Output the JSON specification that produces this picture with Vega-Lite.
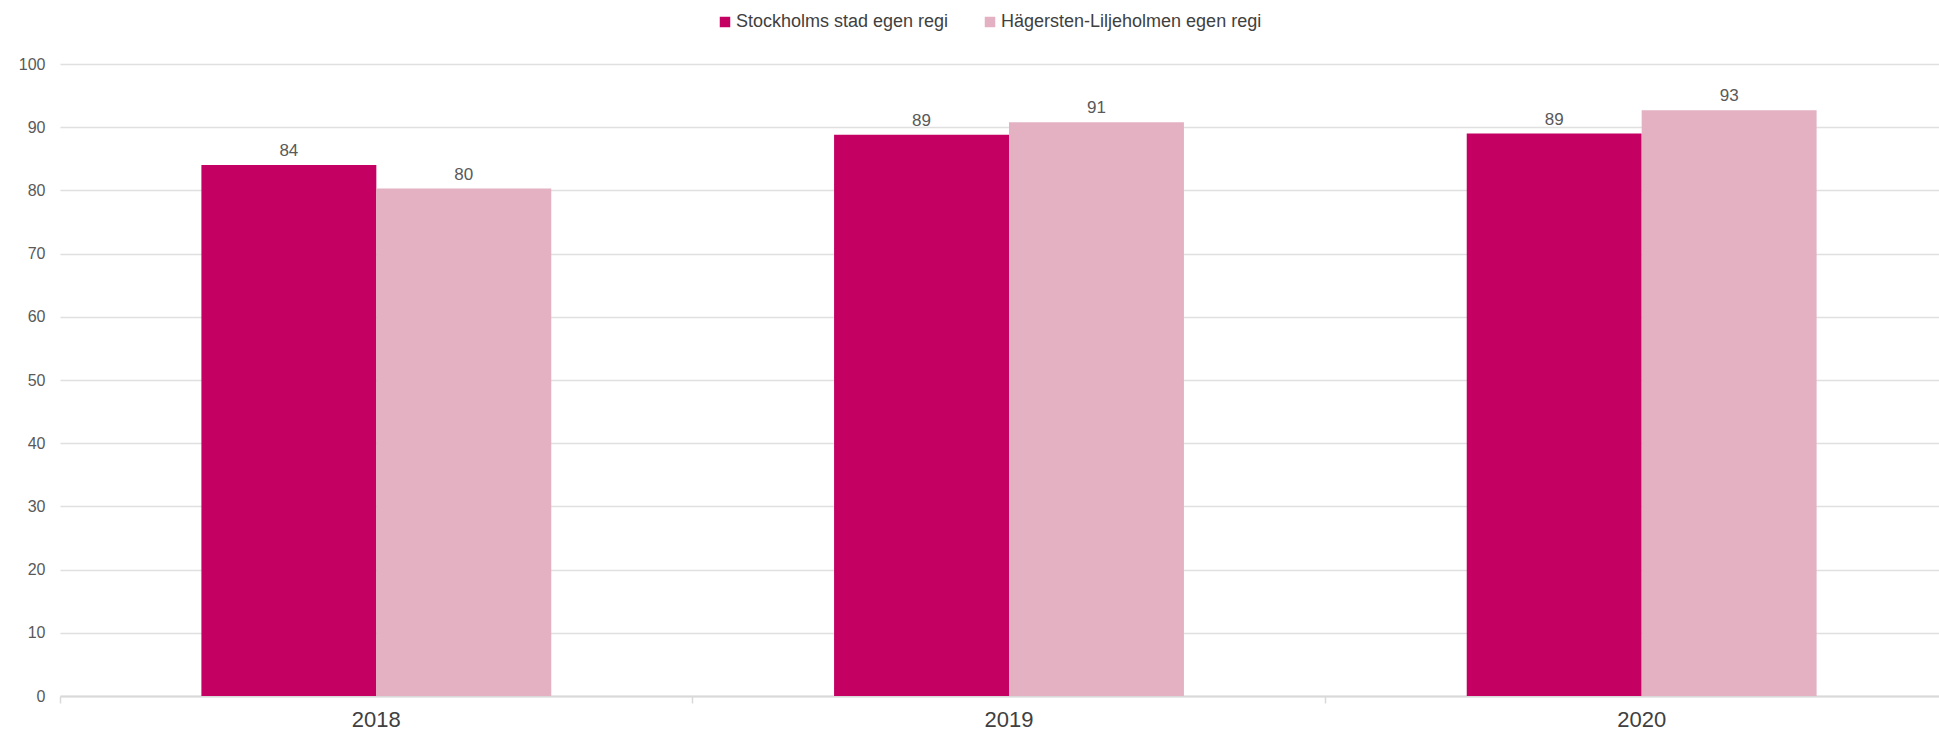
{
  "$schema": "https://vega.github.io/schema/vega-lite/v6.json",
  "autosize": {"type": "none"},
  "width": 1879,
  "height": 632,
  "padding": {"left": 60, "top": 64, "right": 0, "bottom": 37},
  "background": "white",
  "config": {
    "view": {"stroke": null},
    "font": "Liberation Sans"
  },
  "data": {
    "values": [
      {"year": "2018", "series": "Stockholms stad egen regi", "value": 84.0},
      {"year": "2018", "series": "Hägersten-Liljeholmen egen regi", "value": 80.3},
      {"year": "2019", "series": "Stockholms stad egen regi", "value": 88.8},
      {"year": "2019", "series": "Hägersten-Liljeholmen egen regi", "value": 90.8},
      {"year": "2020", "series": "Stockholms stad egen regi", "value": 89.0},
      {"year": "2020", "series": "Hägersten-Liljeholmen egen regi", "value": 92.7}
    ]
  },
  "encoding": {
    "x": {
      "field": "year",
      "type": "nominal",
      "scale": {"range": [0, 1898], "paddingInner": 0.447, "paddingOuter": 0.2235},
      "axis": {
        "title": null,
        "labelAngle": 0,
        "labelFontSize": 22,
        "labelColor": "#404040",
        "labelPadding": 6,
        "tickSize": 7,
        "tickColor": "#d9d9d9",
        "tickWidth": 1.5,
        "bandPosition": -0.4041,
        "domainColor": "#d9d9d9",
        "domainWidth": 2,
        "grid": false
      }
    },
    "xOffset": {
      "field": "series",
      "type": "nominal",
      "scale": {"domain": ["Stockholms stad egen regi", "Hägersten-Liljeholmen egen regi"], "paddingInner": 0, "paddingOuter": 0}
    },
    "y": {
      "field": "value",
      "type": "quantitative",
      "scale": {"domain": [0, 100], "nice": false},
      "axis": {
        "title": null,
        "values": [0, 10, 20, 30, 40, 50, 60, 70, 80, 90, 100],
        "labelFontSize": 16,
        "labelColor": "#595959",
        "labelPadding": 15,
        "ticks": false,
        "domain": false,
        "grid": true,
        "gridColor": "#e0e0e0",
        "gridWidth": 1.5
      }
    }
  },
  "layer": [
    {
      "mark": {"type": "bar"},
      "encoding": {
        "color": {
          "field": "series",
          "type": "nominal",
          "scale": {
            "domain": ["Stockholms stad egen regi", "Hägersten-Liljeholmen egen regi"],
            "range": ["#C40062", "#E3B1C1"]
          },
          "legend": {
            "title": null,
            "orient": "none",
            "direction": "horizontal",
            "legendX": 656,
            "legendY": -51,
            "symbolType": "square",
            "symbolSize": 110,
            "symbolStrokeWidth": 0,
            "labelFontSize": 18,
            "labelLimit": 0,
            "labelColor": "#404040",
            "labelOffset": 2,
            "columnPadding": 32
          }
        }
      }
    },
    {
      "mark": {"type": "text", "baseline": "alphabetic", "dy": -9, "fontSize": 17, "color": "#595959"},
      "encoding": {
        "text": {"field": "value", "type": "quantitative", "format": ".0f"}
      }
    }
  ]
}
